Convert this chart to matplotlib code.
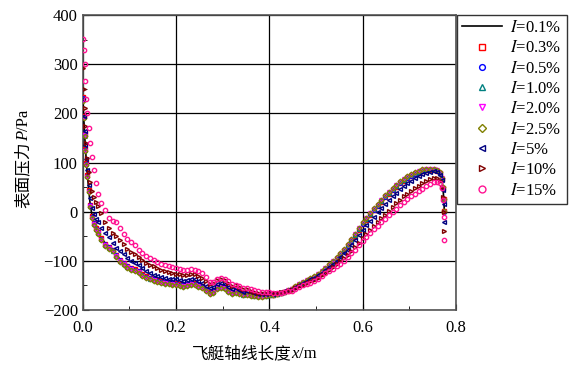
import matplotlib
matplotlib.use("Agg")
import matplotlib.pyplot as plt
from matplotlib.ticker import MultipleLocator, FormatStrFormatter

plt.rcParams["font.family"] = ["Liberation Serif", "Noto Sans CJK SC"]
plt.rcParams["mathtext.fontset"] = "stix"

# axial position along the airship (m)
x = [0.000, 0.002, 0.004, 0.006, 0.008, 0.010, 0.013, 0.016, 0.020, 0.024,
     0.028, 0.032, 0.040, 0.048, 0.056, 0.064, 0.072, 0.080, 0.088, 0.096,
     0.104, 0.112, 0.120, 0.128, 0.136, 0.144, 0.152, 0.160, 0.168, 0.176,
     0.184, 0.192, 0.200, 0.208, 0.216, 0.224, 0.232, 0.240, 0.248, 0.256,
     0.264, 0.272, 0.280, 0.288, 0.296, 0.304, 0.312, 0.320, 0.328, 0.336,
     0.344, 0.352, 0.360, 0.368, 0.376, 0.384, 0.392, 0.400, 0.408, 0.416,
     0.424, 0.432, 0.440, 0.448, 0.456, 0.464, 0.472, 0.480, 0.488, 0.496,
     0.504, 0.512, 0.520, 0.528, 0.536, 0.544, 0.552, 0.560, 0.568, 0.576,
     0.584, 0.592, 0.600, 0.608, 0.616, 0.624, 0.632, 0.640, 0.648, 0.656,
     0.664, 0.672, 0.680, 0.688, 0.696, 0.704, 0.712, 0.720, 0.728, 0.736,
     0.744, 0.752, 0.760, 0.766, 0.770, 0.772, 0.774, 0.775]

# surface pressure (Pa) for each turbulence intensity
p_01 = [235, 195, 160, 128, 100, 75, 45, 15, -8, -22,
        -33, -40, -53, -64, -70, -76, -87, -97, -103, -109,
        -113, -116, -119, -126, -130, -133, -136, -139, -141, -142,
        -143, -144, -145, -147, -148, -146, -144, -145, -148, -151,
        -157, -163, -160, -152, -150, -152, -158, -162, -160, -163,
        -167, -166, -168, -169, -170, -171, -170, -168, -169, -168,
        -166, -163, -161, -159, -155, -150, -147, -144, -140, -136,
        -131, -125, -119, -112, -105, -99, -91, -82, -72, -62,
        -51, -39, -28, -18, -8, 1, 9, 18, 27, 35,
        42, 49, 56, 61, 66, 71, 75, 78, 81, 83,
        84, 84, 82, 77, 66, 48, 25, 0]
p_03 = [233, 194, 159, 127, 99, 74, 44, 14, -9, -23,
        -34, -41, -54, -65, -71, -77, -88, -98, -104, -110,
        -114, -117, -120, -127, -131, -134, -137, -140, -142, -143,
        -144, -145, -146, -148, -149, -147, -145, -146, -149, -152,
        -158, -164, -161, -153, -151, -153, -159, -163, -161, -164,
        -168, -167, -169, -170, -171, -171, -170, -169, -169, -168,
        -166, -163, -161, -158, -154, -149, -146, -143, -139, -135,
        -130, -124, -118, -111, -104, -97, -89, -80, -70, -60,
        -49, -37, -26, -16, -6, 3, 11, 20, 29, 37,
        44, 51, 58, 63, 68, 72, 76, 79, 82, 84,
        85, 85, 83, 78, 67, 49, 26, 1]
p_05 = [231, 193, 158, 126, 98, 73, 43, 13, -10, -24,
        -35, -42, -55, -66, -72, -78, -89, -99, -105, -111,
        -115, -118, -121, -128, -132, -135, -138, -141, -143, -144,
        -145, -146, -147, -149, -150, -148, -146, -147, -150, -153,
        -159, -165, -162, -154, -152, -154, -160, -164, -162, -165,
        -168, -167, -169, -170, -171, -172, -171, -169, -170, -168,
        -166, -163, -160, -158, -154, -149, -146, -142, -138, -134,
        -129, -123, -117, -110, -103, -96, -88, -79, -69, -59,
        -48, -36, -25, -15, -5, 4, 12, 21, 30, 38,
        45, 52, 59, 64, 69, 73, 77, 80, 83, 85,
        86, 85, 83, 78, 67, 48, 24, 0]
p_10 = [229, 192, 157, 125, 97, 72, 42, 12, -11, -25,
        -36, -43, -56, -67, -73, -79, -90, -100, -106, -112,
        -116, -119, -122, -129, -133, -136, -139, -142, -144, -145,
        -146, -147, -148, -150, -151, -149, -147, -148, -151, -154,
        -160, -166, -163, -155, -153, -155, -161, -165, -163, -166,
        -169, -168, -170, -171, -172, -172, -171, -169, -170, -168,
        -166, -163, -160, -157, -153, -148, -145, -141, -137, -133,
        -128, -122, -116, -109, -102, -95, -87, -78, -68, -58,
        -47, -35, -24, -14, -4, 5, 13, 22, 31, 39,
        46, 53, 60, 65, 70, 74, 78, 81, 84, 86,
        86, 86, 84, 79, 68, 49, 25, 1]
p_20 = [227, 191, 156, 124, 96, 71, 41, 11, -12, -26,
        -37, -44, -57, -68, -74, -80, -91, -101, -107, -113,
        -117, -120, -123, -130, -134, -137, -140, -143, -145, -146,
        -147, -148, -149, -151, -152, -150, -148, -149, -152, -155,
        -161, -167, -164, -156, -154, -156, -162, -166, -164, -167,
        -170, -169, -170, -171, -172, -173, -171, -170, -170, -168,
        -166, -163, -160, -157, -153, -148, -144, -140, -136, -132,
        -127, -121, -115, -108, -101, -94, -86, -77, -67, -57,
        -46, -34, -23, -13, -3, 6, 14, 23, 32, 40,
        47, 54, 61, 66, 71, 75, 79, 82, 85, 86,
        87, 86, 84, 79, 68, 48, 24, -1]
p_25 = [226, 190, 155, 123, 95, 70, 40, 10, -13, -27,
        -38, -45, -58, -69, -75, -81, -92, -102, -108, -114,
        -118, -121, -124, -131, -135, -138, -141, -144, -146, -147,
        -148, -149, -150, -152, -153, -151, -149, -150, -153, -156,
        -162, -168, -165, -157, -155, -157, -163, -167, -165, -168,
        -170, -169, -171, -172, -173, -173, -172, -170, -170, -168,
        -166, -163, -160, -157, -152, -147, -143, -139, -135, -131,
        -126, -120, -114, -107, -100, -93, -85, -76, -66, -56,
        -45, -33, -22, -12, -2, 7, 15, 24, 33, 41,
        48, 55, 62, 67, 72, 76, 80, 83, 86, 87,
        87, 87, 85, 80, 69, 50, 26, 2]
p_5 = [230, 195, 165, 135, 108, 85, 55, 28, 8, -5,
       -14, -22, -33, -44, -52, -63, -73, -80, -87, -95,
       -101, -104, -108, -115, -121, -125, -128, -131, -133, -135,
       -136, -137, -138, -140, -141, -139, -137, -138, -141, -145,
       -151, -156, -154, -147, -145, -147, -153, -157, -156, -159,
       -163, -162, -164, -166, -167, -168, -168, -166, -167, -166,
       -164, -162, -160, -157, -154, -149, -146, -142, -138, -134,
       -129, -124, -118, -112, -106, -100, -93, -85, -77, -68,
       -58, -48, -38, -28, -19, -10, -1, 7, 16, 24,
       32, 39, 46, 52, 58, 63, 68, 72, 76, 79,
       81, 82, 80, 75, 64, 45, 15, -22]
p_10p = [292, 250, 210, 175, 140, 110, 80, 60, 42, 30,
         20, 11, -3, -20, -33, -43, -50, -58, -66, -75,
         -82, -87, -93, -99, -104, -108, -111, -115, -118, -120,
         -122, -124, -126, -127, -129, -128, -126, -127, -130, -134,
         -141, -147, -146, -140, -138, -140, -146, -151, -150, -154,
         -158, -158, -161, -163, -165, -166, -166, -165, -166, -166,
         -164, -163, -161, -159, -156, -152, -149, -146, -142, -139,
         -134, -129, -124, -118, -113, -107, -101, -95, -88, -80,
         -72, -63, -54, -45, -37, -29, -21, -13, -6, 2,
         10, 18, 24, 31, 37, 43, 48, 53, 58, 63,
         67, 69, 68, 62, 50, 30, 0, -40]
p_15 = [352, 330, 300, 265, 230, 200, 170, 140, 112, 85,
        58, 35, 18, 3, -13, -18, -21, -33, -45, -55,
        -62, -68, -78, -85, -90, -95, -99, -103, -106, -109,
        -111, -113, -115, -117, -118, -118, -116, -118, -121, -125,
        -133, -143, -144, -137, -134, -136, -141, -147, -149, -152,
        -156, -156, -158, -160, -162, -163, -164, -164, -165, -165,
        -165, -164, -162, -161, -157, -153, -150, -148, -145, -141,
        -136, -130, -125, -120, -116, -111, -106, -100, -93, -85,
        -77, -68, -59, -51, -43, -36, -29, -21, -14, -7,
        -1, 6, 13, 19, 25, 31, 36, 42, 47, 52,
        56, 60, 61, 58, 48, 24, -10, -57]

labels = ["0.1%", "0.3%", "0.5%", "1.0%", "2.0%", "2.5%", "5%", "10%", "15%"]
series = [p_01, p_03, p_05, p_10, p_20, p_25, p_5, p_10p, p_15]
colors = ["black", "#ff0000", "#0000ff", "#008080", "#ff00ff", "#808000",
          "#000080", "#800000", "#ff1493"]
markers = [None, "s", "o", "^", "v", "D", "<", ">", "o"]
sizes = [0, 2.6, 2.6, 2.8, 2.8, 2.4, 2.8, 2.8, 3.1]

fig = plt.figure(figsize=(5.73, 3.69), dpi=100)
ax = fig.add_axes([0.1443, 0.16, 0.6515, 0.799])

for p, lab, c, m, ms in zip(series, labels, colors, markers, sizes):
    if m is None:
        ax.plot(x, p, color=c, lw=1.2, label=f"$I$={lab}", zorder=3)
    else:
        ax.plot(x, p, ls="none", marker=m, ms=ms, mfc="none", mec=c,
                mew=1.0, label=f"$I$={lab}", zorder=3)

ax.set_xlim(0, 0.8)
ax.set_ylim(-200, 400)
ax.xaxis.set_major_locator(MultipleLocator(0.2))
ax.xaxis.set_minor_locator(MultipleLocator(0.1))
ax.yaxis.set_major_locator(MultipleLocator(100))
ax.yaxis.set_minor_locator(MultipleLocator(50))
ax.xaxis.set_major_formatter(FormatStrFormatter("%.1f"))
ax.tick_params(which="both", direction="in", labelsize=12)
ax.tick_params(which="major", length=4)
ax.tick_params(which="minor", length=3)
ax.tick_params(axis="x", pad=7)
ax.grid(True, which="major", color="black", lw=0.9)
for s in ax.spines.values():
    s.set_color("#555555")
    s.set_linewidth(1.2)

# axis titles: Chinese text + italic symbol + unit, laid out piece by piece
renderer = fig.canvas.get_renderer()
W, H = fig.get_size_inches() * fig.dpi


def rich_label(parts, x0, y0, rotation=0):
    texts = []
    for s, fam, style in parts:
        t = fig.text(0, 0, s, family=fam, style=style, fontsize=12,
                     rotation=rotation, rotation_mode="anchor",
                     ha="left", va="baseline")
        texts.append(t)
    sizes_ = []
    for t in texts:
        bb = t.get_window_extent(renderer)
        sizes_.append(bb.height if rotation else bb.width)
    total = sum(sizes_)
    pos = -total / 2
    for t, w in zip(texts, sizes_):
        if rotation:
            t.set_position((x0 / W, (y0 + pos) / H))
        else:
            t.set_position(((x0 + pos) / W, y0 / H))
        pos += w


rich_label([("飞艇轴线长度", "Noto Sans CJK SC", "normal"),
            ("x", "Liberation Serif", "italic"),
            ("/m", "Liberation Serif", "normal")], 254, 369 - 358)
rich_label([("表面压力", "Noto Sans CJK SC", "normal"),
            ("P", "Liberation Serif", "italic"),
            ("/Pa", "Liberation Serif", "normal")], 28, 369 - 159, rotation=90)

leg = fig.legend(loc="upper left", bbox_to_anchor=(457 / 573, 1 - 15 / 369),
                 fontsize=12, frameon=True, fancybox=False,
                 edgecolor="black", borderaxespad=0, handlelength=2.4,
                 labelspacing=0.26, borderpad=0.3, handletextpad=0.5,
                 markerscale=1.6)
leg.get_frame().set_linewidth(1.0)

fig.savefig("out.png", dpi=100)
